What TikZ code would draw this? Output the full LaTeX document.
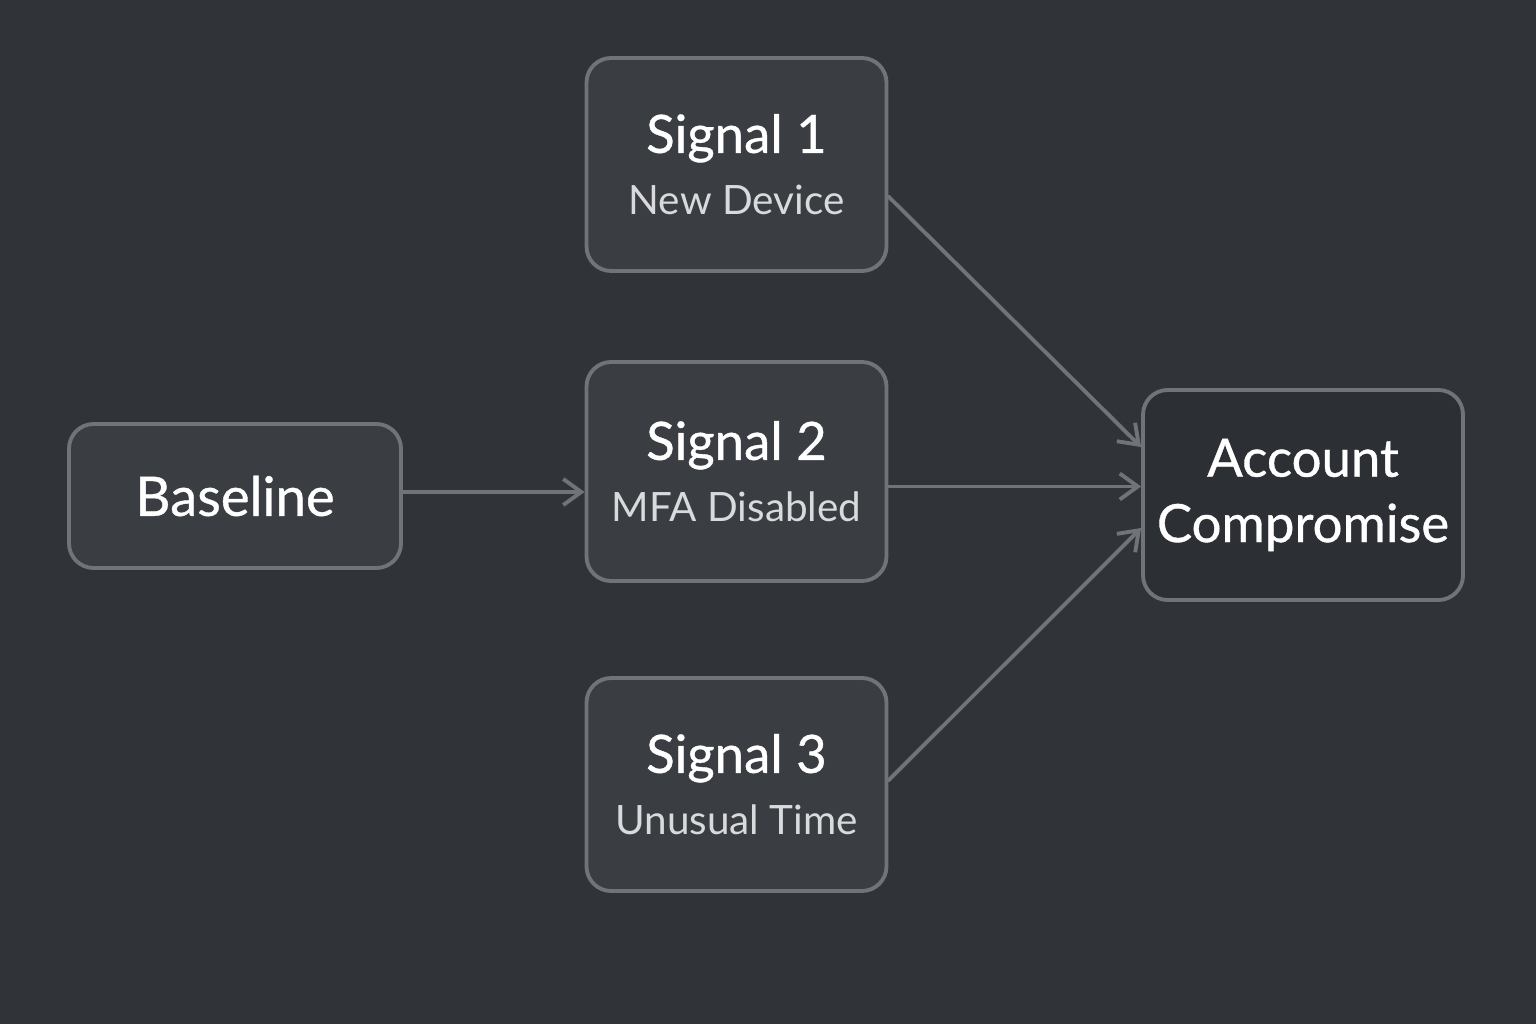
\documentclass[tikz,border=0pt]{standalone}
\usepackage{fontspec}
\setmainfont{Lato}
\setsansfont{Lato}
\newfontfamily\headfont{Lato}[RawFeature={embolden=0.7}]
\usetikzlibrary{arrows.meta, positioning, calc}
\definecolor{cbg}{HTML}{303338}
\definecolor{cbox}{HTML}{3A3D42}
\definecolor{cdark}{HTML}{2C2F33}
\definecolor{cline}{HTML}{707377}
\definecolor{csub}{HTML}{D8DADC}
\tikzset{
  every picture/.style={font=\sffamily, line width=1.1pt},
  box/.style={draw=cline, fill=#1, rounded corners=7pt, align=center, inner sep=0pt, text=white},
  box/.default=cbox,
  arrow/.style={-{Straight Barb[length=1.8mm, width=2.6mm]}, draw=cline, line width=1.1pt, line cap=round},
  head/.style={font=\headfont\fontsize{15}{17.6}\selectfont},
}
\newcommand{\sub}[1]{\\[0pt]{\sffamily\fontsize{11.5}{17.6}\selectfont\color{csub}#1}}

\begin{document}
\begin{tikzpicture}[
    sig/.style={box, head, minimum width=3.0cm, minimum height=2.13cm},
  ]
  \fill[cbg] (0,0) rectangle (15.36,10.24);
  \useasboundingbox (0,0) rectangle (15.36,10.24);

  % nodes
  \node[box, head, minimum width=3.32cm, minimum height=1.44cm] (base) at (2.35,5.28) {\fontsize{15.5}{17.6}\selectfont Baseline};
  \node[sig] (sig1) at (7.365,8.595) {Signal 1\sub{New Device}};
  \node[sig, minimum height=2.19cm] (sig2) at (7.365,5.525) {Signal 2\sub{MFA Disabled}};
  \node[sig] (sig3) at (7.365,2.395) {Signal 3\sub{Unusual Time}};
  \node[box=cdark, head, minimum width=3.2cm, minimum height=2.1cm] (acc) at (13.03,5.29) {\raisebox{-2pt}{Account}\\[1pt]\raisebox{-2pt}{Compromise}};

  % arrows
  \draw[arrow] ([yshift=0.4mm]base.east) -- ([yshift=0.4mm]base.east -| sig2.west);
  \draw[arrow] ([yshift=-1.5mm]sig2.east) -- ([yshift=-1.5mm]sig2.east -| acc.west);
  \draw[arrow] ([yshift=-3.2mm]sig1.east) -- ([yshift=4.8mm]acc.west);
  \draw[arrow] ([yshift=0.4mm]sig3.east) -- ([yshift=-3.3mm]acc.west);
\end{tikzpicture}
\end{document}
